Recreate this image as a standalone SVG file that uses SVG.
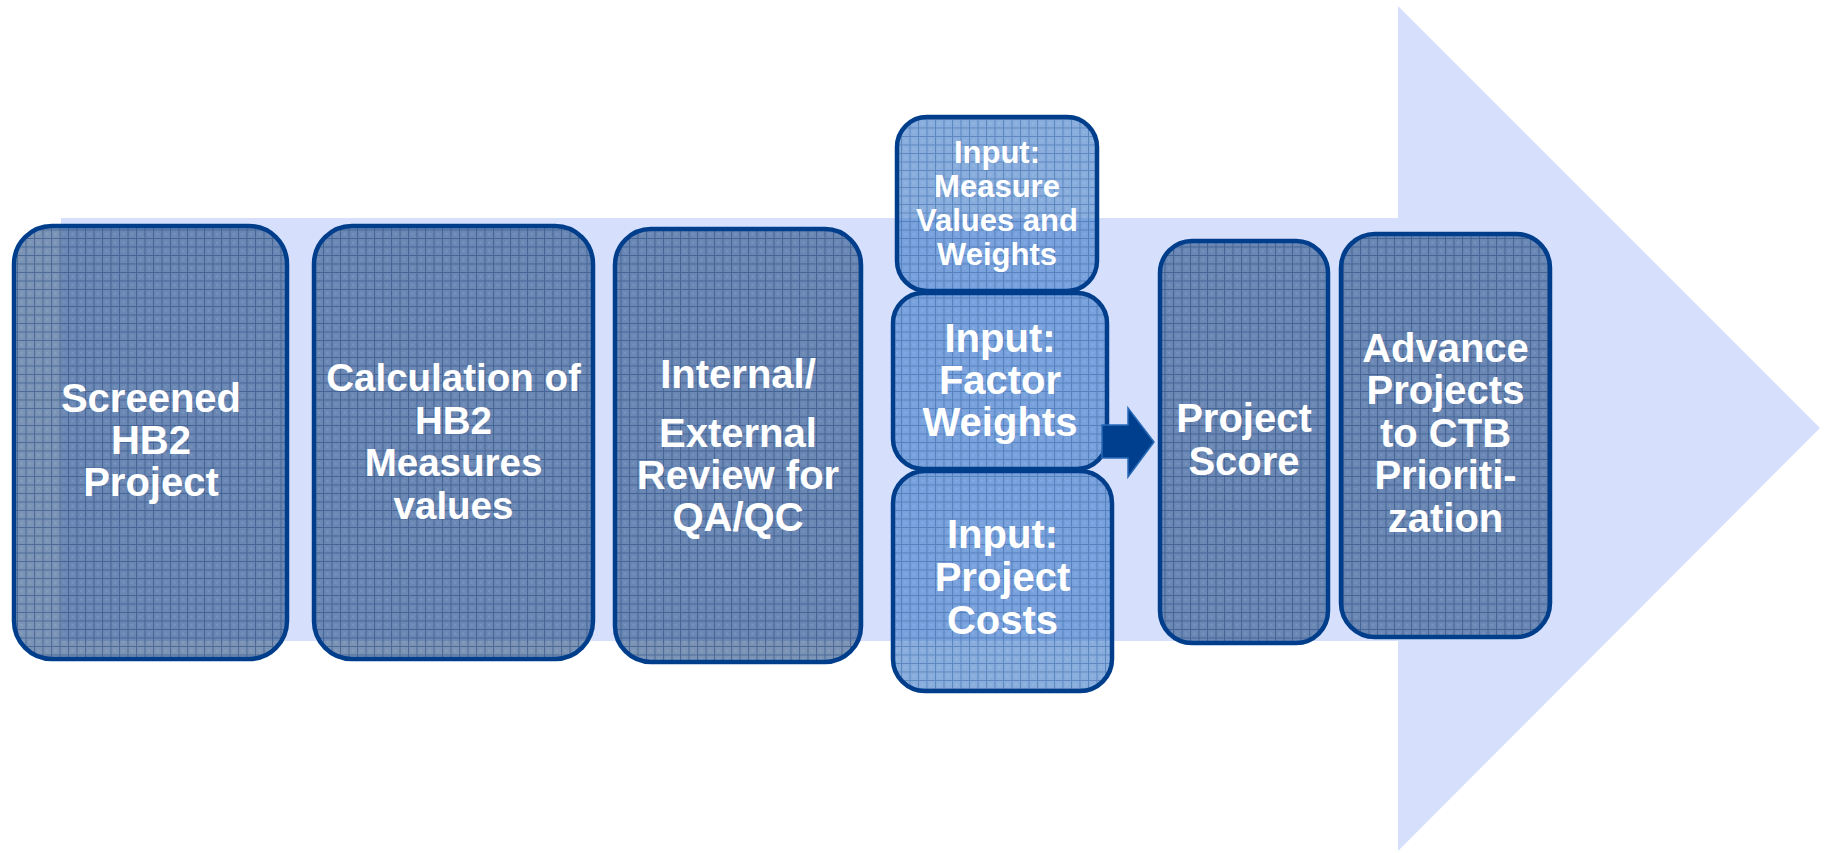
<svg xmlns="http://www.w3.org/2000/svg" width="1832" height="853" viewBox="0 0 1832 853">
<style>
.box{stroke:#003e8c;stroke-width:4.5}
.main{fill:#234c86;fill-opacity:0.6}
.inp{fill:#3a78c8;fill-opacity:0.6}
.grid{fill:url(#grid);stroke:none}
.gridL{fill:url(#gridL);stroke:none}
text{font-family:"Liberation Sans",Arial,sans-serif;font-weight:bold;fill:#ffffff;text-anchor:middle}
</style>
<defs>
<pattern id="grid" width="8.5" height="8.5" patternUnits="userSpaceOnUse">
<path d="M0 0.5H8.5M0.5 0V8.5" stroke="#24477a" stroke-opacity="0.55" stroke-width="1" fill="none"/>
<circle cx="4.5" cy="4.5" r="0.6" fill="#ffffff" fill-opacity="0.35"/>
</pattern>
<pattern id="gridL" width="8.5" height="8.5" patternUnits="userSpaceOnUse">
<path d="M0 0.5H8.5M0.5 0V8.5" stroke="#2f5f9e" stroke-opacity="0.5" stroke-width="1" fill="none"/>
<circle cx="4.5" cy="4.5" r="0.6" fill="#ffffff" fill-opacity="0.35"/>
</pattern>
</defs>
<g id="background">
<polygon points="61,218 1398,218 1398,6 1820,428 1398,851 1398,641 61,641" fill="#d6e0fd"/>
</g>
<g id="n1">
<rect class="main" x="14" y="226" width="273" height="433" rx="38"/>
<rect class="grid" x="14" y="226" width="273" height="433" rx="38"/>
<rect class="box" fill="none" x="14" y="226" width="273" height="433" rx="38"/>
<text font-size="40"><tspan x="151" y="412">Screened</tspan><tspan x="151" y="454">HB2</tspan><tspan x="151" y="496">Project</tspan></text>
</g>
<g id="n2">
<rect class="main" x="314" y="226" width="279" height="433" rx="38"/>
<rect class="grid" x="314" y="226" width="279" height="433" rx="38"/>
<rect class="box" fill="none" x="314" y="226" width="279" height="433" rx="38"/>
<text font-size="38.5"><tspan x="453.5" y="391">Calculation of</tspan><tspan x="453.5" y="434">HB2</tspan><tspan x="453.5" y="476">Measures</tspan><tspan x="453.5" y="519">values</tspan></text>
</g>
<g id="n3">
<rect class="main" x="615" y="229" width="246" height="433" rx="36"/>
<rect class="grid" x="615" y="229" width="246" height="433" rx="36"/>
<rect class="box" fill="none" x="615" y="229" width="246" height="433" rx="36"/>
<text font-size="40"><tspan x="738" y="388">Internal/</tspan><tspan x="738" y="447">External</tspan><tspan x="738" y="489">Review for</tspan><tspan x="738" y="531">QA/QC</tspan></text>
</g>
<g id="n4">
<rect class="inp" x="897" y="117" width="200" height="174" rx="30"/>
<rect class="gridL" x="897" y="117" width="200" height="174" rx="30"/>
<rect class="box" fill="none" x="897" y="117" width="200" height="174" rx="30"/>
<text font-size="31"><tspan x="997" y="163">Input:</tspan><tspan x="997" y="197">Measure</tspan><tspan x="997" y="231">Values and</tspan><tspan x="997" y="265">Weights</tspan></text>
</g>
<g id="n5">
<rect class="inp" x="893" y="293" width="214" height="176" rx="30"/>
<rect class="gridL" x="893" y="293" width="214" height="176" rx="30"/>
<rect class="box" fill="none" x="893" y="293" width="214" height="176" rx="30"/>
<text font-size="40"><tspan x="1000" y="352">Input:</tspan><tspan x="1000" y="394">Factor</tspan><tspan x="1000" y="436">Weights</tspan></text>
</g>
<g id="n6">
<rect class="inp" x="893" y="471" width="219" height="220" rx="32"/>
<rect class="gridL" x="893" y="471" width="219" height="220" rx="32"/>
<rect class="box" fill="none" x="893" y="471" width="219" height="220" rx="32"/>
<text font-size="40"><tspan x="1002.5" y="548">Input:</tspan><tspan x="1002.5" y="591">Project</tspan><tspan x="1002.5" y="634">Costs</tspan></text>
</g>
<g id="connectors">
<polygon points="1102,425 1128,425 1128,408 1154,442 1128,477 1128,458 1102,458" fill="#003f8e" stroke="#2a6ab8" stroke-width="1.5"/>
</g>
<g id="n7">
<rect class="main" x="1160" y="241" width="168" height="402" rx="32"/>
<rect class="grid" x="1160" y="241" width="168" height="402" rx="32"/>
<rect class="box" fill="none" x="1160" y="241" width="168" height="402" rx="32"/>
<text font-size="40"><tspan x="1244" y="432">Project</tspan><tspan x="1244" y="475">Score</tspan></text>
</g>
<g id="n8">
<rect class="main" x="1341" y="234" width="209" height="403" rx="34"/>
<rect class="grid" x="1341" y="234" width="209" height="403" rx="34"/>
<rect class="box" fill="none" x="1341" y="234" width="209" height="403" rx="34"/>
<text font-size="40"><tspan x="1445.5" y="362">Advance</tspan><tspan x="1445.5" y="404">Projects</tspan><tspan x="1445.5" y="447">to CTB</tspan><tspan x="1445.5" y="489">Prioriti-</tspan><tspan x="1445.5" y="532">zation</tspan></text>
</g>
</svg>
